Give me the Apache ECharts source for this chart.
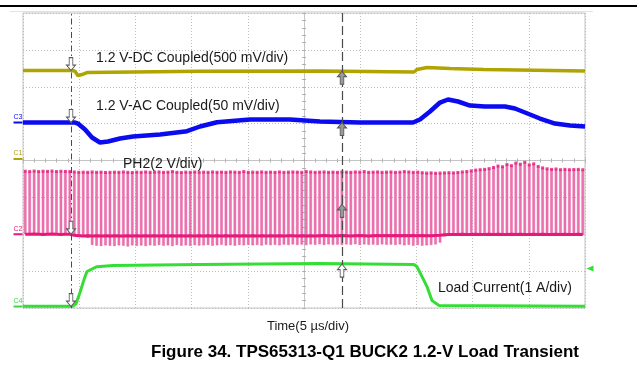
<!DOCTYPE html>
<html><head><meta charset="utf-8">
<script src="https://cdn.jsdelivr.net/npm/echarts@6/dist/echarts.min.js"></script>
<style>html,body{margin:0;padding:0;background:#fff}#c{width:637px;height:385px}</style>
</head><body><div id="c"></div>
<script>
// ---- channel settings (volts/div and ground-marker position in divisions) ----
const c1Scale = 0.5,  c1Offset = 0.04;   // 1.2 V DC, 500 mV/div
const c3Scale = 50,   c3Offset = 1.03;   // 1.2 V AC, 50 mV/div
const c2Scale = 2,    c2Offset = -2.0;   // PH2, 2 V/div
const c4Scale = 1,    c4Offset = -3.96;  // load current, 1 A/div

// ---- C1: 1.2 V DC coupled (V) ----
const yelT = [-25,-20.64,-20.37,-20.11,-19.75,-19.31,-15.21,-9.25,1.42,9.79,10.05,10.94,12.99,16.01,25];
const yelV = [1.2,1.2,1.19,1.13,1.146,1.173,1.18,1.19,1.193,1.18,1.214,1.241,1.227,1.214,1.193];

// ---- C3: 1.2 V AC coupled (mV) ----
const bluT = [-25,-20.37,-20.11,-19.48,-18.86,-18.15,-17.44,-16.37,-15.21,-12.81,-10.41,-9.25,-7.74,-4.8,-1.25,1.42,4.98,9.7,10.32,11.21,12.1,12.81,13.7,14.77,16.1,17.88,18.77,19.66,20.99,22.33,23.67,25];
const bluMv = [0,0,-1.4,-9.5,-20.3,-27.1,-25.7,-21.7,-19.0,-16.3,-11.8,-5.4,0.4,4.1,4.1,1.4,0,0,4.1,14.9,27.1,31.2,28.5,23.0,21.7,21.7,19.0,13.6,5.4,-1.4,-4.1,-5.4];

// ---- C4: load current (A) ----
const grnT = [-25,-20.55,-20.28,-19.93,-19.57,-19.31,-18.42,-16.99,-9.25,1.42,9.79,10.05,10.5,10.94,11.39,12.01,25];
const grnA = [0.01,0.01,0.08,0.38,0.73,0.95,1.08,1.11,1.14,1.17,1.14,1.08,0.81,0.54,0.16,0.03,0.01];

// ---- C2: PH2 switch node, one value per switching pulse (V) ----
const phHigh = [3.42,3.40,3.43,3.40,3.42,3.41,3.43,3.40,3.42,3.41,
 3.40,3.38,3.36,3.37,3.36,3.38,3.36,3.37,3.35,3.36,
 3.37,3.36,3.38,3.36,3.35,3.37,3.36,3.38,3.36,3.37,
 3.38,3.36,3.37,3.40,3.36,3.35,3.37,3.36,3.38,3.36,
 3.37,3.36,3.38,3.36,3.37,3.36,3.38,3.37,3.36,3.40,
 3.36,3.37,3.36,3.38,3.36,3.37,3.36,3.38,3.36,3.37,
 3.38,3.37,3.36,3.40,3.38,3.36,3.37,3.38,3.36,3.37,
 3.36,3.38,3.37,3.36,3.38,3.37,3.40,3.36,3.37,3.38,
 3.36,3.37,3.38,3.36,3.37,3.40,3.38,3.36,3.37,3.34,
 3.32,3.33,3.31,3.32,3.33,3.34,3.33,3.35,3.38,3.40,
 3.44,3.48,3.50,3.52,3.56,3.62,3.70,3.66,3.78,3.72,
 3.86,3.80,3.90,3.76,3.82,3.68,3.60,3.55,3.52,3.54,
 3.50,3.52,3.50,3.51,3.52,3.50];
const phLow = [0.00,0.00,0.02,0.00,-0.02,0.00,0.01,0.00,-0.01,0.00,
 0.00,-0.06,-0.08,-0.10,-0.08,-0.09,-0.08,-0.10,-0.08,-0.09,
 -0.08,-0.10,-0.09,-0.08,-0.10,-0.08,-0.09,-0.08,-0.10,-0.08,
 -0.09,-0.08,-0.10,-0.08,-0.09,-0.08,-0.10,-0.08,-0.09,-0.08,
 -0.10,-0.08,-0.09,-0.08,-0.10,-0.08,-0.09,-0.08,-0.10,-0.08,
 -0.09,-0.08,-0.10,-0.08,-0.09,-0.08,-0.10,-0.08,-0.09,-0.08,
 -0.08,-0.09,-0.08,-0.10,-0.08,-0.09,-0.08,-0.07,-0.08,-0.09,
 -0.08,-0.07,-0.08,-0.09,-0.08,-0.07,-0.08,-0.09,-0.08,-0.07,
 -0.08,-0.07,-0.08,-0.07,-0.08,-0.07,-0.08,-0.07,-0.08,-0.07,
 -0.08,-0.08,-0.07,-0.06,-0.03,-0.02,-0.01,-0.02,0.00,-0.01,
 -0.02,0.00,-0.01,-0.02,0.00,-0.01,0.00,-0.02,-0.01,0.00,
 -0.01,0.00,-0.02,-0.01,0.00,-0.01,0.00,-0.02,-0.01,0.00,
 -0.01,0.00,-0.02,-0.01,0.00,-0.01];
const phMin = [0.00,0.00,0.02,0.00,-0.02,0.00,0.01,0.00,-0.01,0.00,
 0.00,-0.08,-0.10,-0.12,-0.20,-0.58,-0.62,-0.64,-0.60,-0.62,
 -0.64,-0.60,-0.62,-0.66,-0.60,-0.63,-0.61,-0.64,-0.60,-0.62,
 -0.58,-0.62,-0.60,-0.64,-0.58,-0.62,-0.60,-0.63,-0.59,-0.61,
 -0.60,-0.58,-0.62,-0.60,-0.57,-0.61,-0.59,-0.62,-0.58,-0.60,
 -0.57,-0.60,-0.58,-0.61,-0.56,-0.59,-0.57,-0.60,-0.56,-0.58,
 -0.55,-0.58,-0.56,-0.59,-0.55,-0.57,-0.54,-0.58,-0.55,-0.57,
 -0.56,-0.58,-0.55,-0.57,-0.54,-0.58,-0.55,-0.57,-0.56,-0.58,
 -0.55,-0.57,-0.56,-0.58,-0.55,-0.60,-0.57,-0.62,-0.58,-0.62,
 -0.60,-0.58,-0.55,-0.45,-0.12,-0.06,-0.05,-0.06,-0.05,-0.04,
 -0.05,-0.04,-0.05,-0.06,-0.04,-0.05,-0.04,-0.06,-0.05,-0.04,
 -0.05,-0.04,-0.06,-0.05,-0.04,-0.05,-0.04,-0.06,-0.05,-0.04,
 -0.05,-0.04,-0.06,-0.05,-0.04,-0.05];
const pulseIds = phHigh.map((_, i) => 'P' + (i + 1));

// ---- cursors (µs) and cursor readouts ----
const cursorT = [-20.73, 3.38];
const c1Read = [1.2, 1.19];    // V
const c3Read = [0, 0];         // mV
const c2Read = [0, 1.62];      // V
const c4Read = [0, 1.15];      // A
const trigLevelA = 1.03;

// ---- texts ----
const labelDC = '1.2 V-DC Coupled(500 mV/div)';
const labelAC = '1.2 V-AC Coupled(50 mV/div)';
const labelPH = 'PH2(2 V/div)';
const labelLoad = 'Load Current(1 A/div)';
const xTitle = 'Time(5 µs/div)';
const figTitle = 'Figure 34. TPS65313-Q1 BUCK2 1.2-V Load Transient';

const COL_Y = '#b0a400', COL_B = '#0b0bf0', COL_P = '#e6197a', COL_PL = '#ec74b0', COL_G = '#35de35';
const d1 = v => c1Offset + v / c1Scale;
const d3 = v => c3Offset + v / c3Scale;
const d2 = v => c2Offset + v / c2Scale;
const d4 = v => c4Offset + v / c4Scale;
const pair = (ts, vs, f) => ts.map((t, i) => [t, f(vs[i])]);

const FONT = '"Liberation Sans", Arial, sans-serif';
const gridCol = '#bdbdbd';

const downArrow = 'path://M3,0 L7,0 L7,7 L10,7 L5,12 L0,7 L3,7 Z';
const upArrow = 'path://M5,0 L10,5 L7,5 L7,12 L3,12 L3,5 L0,5 Z';
function arrow(t, val, up, dark) {
  return { coord: [t, val], symbol: up ? upArrow : downArrow, symbolSize: [9, 13],
    symbolOffset: [0, up ? '50%' : '-50%'],
    itemStyle: { color: dark ? '#9a9a9a' : '#ffffff', borderColor: '#5a5a5a', borderWidth: 1 }, label: { show: false } };
}
function chMark(val, txt, col) {
  return { coord: [-25, val], symbol: 'rect', symbolSize: [9, 2], symbolOffset: [-5, 0],
    itemStyle: { color: col },
    label: { show: true, formatter: txt, position: 'top', distance: 1, fontSize: 7, color: col, fontFamily: FONT } };
}

const chart = echarts.init(document.getElementById('c'), null, { renderer: 'canvas' });
const centerAxisBase = { type: 'value', min: -25, max: 25, interval: 5 };
chart.setOption({
  animation: false,
  backgroundColor: '#ffffff',
  grid: { left: 23, top: 13, width: 562, height: 295, show: true, borderColor: '#c4c4c4', borderWidth: 1, backgroundColor: 'transparent' },
  xAxis: [
    Object.assign({}, centerAxisBase, {
      axisLine: { show: true, onZero: true, onZeroAxisIndex: 0, lineStyle: { color: '#c4c4c4', width: 1 } },
      axisTick: { show: true, inside: true, length: 2, lineStyle: { color: '#b0b0b0' } },
      minorTick: { show: true, splitNumber: 5, length: 2, lineStyle: { color: '#b0b0b0' } },
      axisLabel: { show: false },
      splitLine: { show: true, lineStyle: { color: gridCol, type: [1, 2], width: 1 } }
    }),
    { type: 'category', data: pulseIds, boundaryGap: true, show: false },
    Object.assign({}, centerAxisBase, {
      position: 'bottom',
      axisLine: { show: true, onZero: true, onZeroAxisIndex: 0, lineStyle: { color: '#c4c4c4', width: 1 } },
      axisTick: { show: true, inside: false, length: 2, lineStyle: { color: '#b0b0b0' } },
      minorTick: { show: true, splitNumber: 5, length: 2, lineStyle: { color: '#b0b0b0' } },
      axisLabel: { show: false }, splitLine: { show: false }
    })
  ],
  yAxis: [
    { type: 'value', min: -4, max: 4, interval: 1,
      axisLine: { show: true, onZero: true, onZeroAxisIndex: 0, lineStyle: { color: '#c4c4c4', width: 1 } },
      axisTick: { show: true, inside: true, length: 2, lineStyle: { color: '#b0b0b0' } },
      minorTick: { show: true, splitNumber: 5, length: 2, lineStyle: { color: '#b0b0b0' } },
      axisLabel: { show: false },
      splitLine: { show: true, lineStyle: { color: gridCol, type: [1, 2], width: 1 } } },
    { type: 'value', min: -4, max: 4, interval: 1, position: 'left',
      axisLine: { show: true, onZero: true, onZeroAxisIndex: 0, lineStyle: { color: '#c4c4c4', width: 1 } },
      axisTick: { show: true, inside: false, length: 2, lineStyle: { color: '#b0b0b0' } },
      minorTick: { show: true, splitNumber: 5, length: 2, lineStyle: { color: '#b0b0b0' } },
      axisLabel: { show: false }, splitLine: { show: false } }
  ],
  series: [
    { name: 'ph2base', type: 'bar', xAxisIndex: 1, yAxisIndex: 0, stack: 'ph', barWidth: 2.5, silent: true,
      itemStyle: { color: 'rgba(0,0,0,0)' }, data: phHigh.map(d2), z: 1 },
    { name: 'PH2', type: 'bar', xAxisIndex: 1, yAxisIndex: 0, stack: 'ph', barWidth: 2.5, silent: true,
      itemStyle: { color: COL_PL, borderColor: '#e24a95', borderWidth: 0.4 },
      data: phMin.map((v, i) => d2(v) - d2(phHigh[i])), z: 1 },
    { name: 'PH2 low', type: 'line', xAxisIndex: 1, yAxisIndex: 0, data: phLow.map(d2), symbol: 'none',
      lineStyle: { color: COL_P, width: 3 }, z: 2, silent: true },
    { name: 'PH2 top', type: 'scatter', xAxisIndex: 1, yAxisIndex: 0, data: phHigh.map(d2), symbol: 'rect',
      symbolSize: [3, 3], itemStyle: { color: COL_P }, z: 2, silent: true },
    { name: 'Load', type: 'line', xAxisIndex: 0, yAxisIndex: 0, data: pair(grnT, grnA, d4), symbol: 'none',
      lineStyle: { color: COL_G, width: 3 }, z: 3, silent: true },
    { name: 'DC', type: 'line', xAxisIndex: 0, yAxisIndex: 0, data: pair(yelT, yelV, d1), symbol: 'none',
      lineStyle: { color: COL_Y, width: 3.5 }, z: 3, silent: true,
      markLine: { silent: true, symbol: ['none', 'none'], label: { show: false },
        data: [
          { xAxis: cursorT[0], lineStyle: { color: '#4a4a4a', width: 1, type: [6, 3, 1.5, 3] } },
          { xAxis: cursorT[1], lineStyle: { color: '#4a4a4a', width: 1.2, type: [9, 4] } }
        ] } },
    { name: 'AC', type: 'line', xAxisIndex: 0, yAxisIndex: 0, data: pair(bluT, bluMv, d3), symbol: 'none',
      lineStyle: { color: COL_B, width: 4.5 }, z: 3, silent: true },
    { name: 'markers', type: 'scatter', xAxisIndex: 0, yAxisIndex: 0, data: [[0, 0]], symbolSize: 0, clip: false, z: 10, silent: true,
      markPoint: { silent: true, data: [
        chMark(c1Offset, 'C1', COL_Y), chMark(c3Offset, 'C3', COL_B), chMark(c2Offset, 'C2', COL_P), chMark(c4Offset, 'C4', COL_G),
        { coord: [25, d4(trigLevelA)], symbol: 'triangle', symbolRotate: 90, symbolSize: [6, 7], symbolOffset: [5, 0],
          itemStyle: { color: COL_G }, label: { show: false } },
        arrow(cursorT[0], d1(c1Read[0]), false), arrow(cursorT[0], d3(c3Read[0]), false),
        arrow(cursorT[0], d2(c2Read[0]), false), arrow(cursorT[0], d4(c4Read[0]), false),
        arrow(cursorT[1], d1(c1Read[1]), true, true), arrow(cursorT[1], d3(c3Read[1]), true, true),
        arrow(cursorT[1], d2(c2Read[1]), true, true), arrow(cursorT[1], d4(c4Read[1]), true, false)
      ] } }
  ],
  graphic: [
    { type: 'line', shape: { x1: 0, y1: 6, x2: 637, y2: 6 }, style: { stroke: '#000', lineWidth: 2 } },
    { type: 'line', shape: { x1: 10, y1: 11.5, x2: 593, y2: 11.5 }, style: { stroke: '#e2e2e2', lineWidth: 1 } },
    { type: 'text', x: 96, y: 58, style: { text: labelDC, font: '14px ' + FONT, fill: '#1a1a1a', align: 'left', verticalAlign: 'middle' }, z: 20 },
    { type: 'text', x: 96, y: 106, style: { text: labelAC, font: '14px ' + FONT, fill: '#1a1a1a', align: 'left', verticalAlign: 'middle' }, z: 20 },
    { type: 'text', x: 123, y: 164, style: { text: labelPH, font: '14px ' + FONT, fill: '#1a1a1a', align: 'left', verticalAlign: 'middle' }, z: 20 },
    { type: 'text', x: 438, y: 288, style: { text: labelLoad, font: '14px ' + FONT, fill: '#1a1a1a', align: 'left', verticalAlign: 'middle' }, z: 20 },
    { type: 'text', x: 308, y: 326, style: { text: xTitle, font: '13px ' + FONT, fill: '#1a1a1a', align: 'center', verticalAlign: 'middle' }, z: 20 },
    { type: 'text', x: 365, y: 352, style: { text: figTitle, font: 'bold 17px ' + FONT, fill: '#000', align: 'center', verticalAlign: 'middle' }, z: 20 }
  ]
});
</script></body></html>
